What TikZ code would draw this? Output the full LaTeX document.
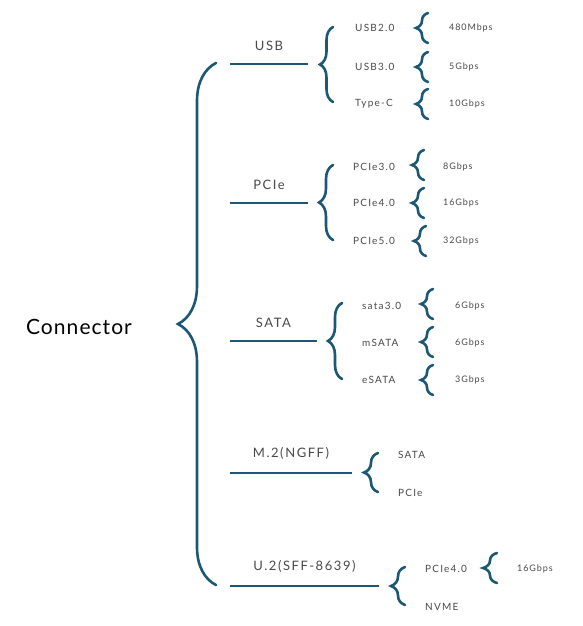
\documentclass[tikz,border=0pt]{standalone}
\usepackage{fontspec}
\setmainfont{Lato}
\usetikzlibrary{decorations.pathreplacing,positioning}
\definecolor{linkblue}{RGB}{28,88,116}
\definecolor{textgray}{RGB}{72,72,72}
\tikzset{
    x=1pt,y=-1pt,
    root/.style={font=\fontsize{21}{24}\selectfont\addfontfeatures{LetterSpace=5}, text=black},
    branch/.style={anchor=south, text width=#1, align=center, inner xsep=0pt, inner ysep=13pt,
        font=\fontsize{13}{15}\selectfont\addfontfeatures{LetterSpace=12}, text=textgray},
    leaf/.style={anchor=west, inner sep=0pt, font=\fontsize{10}{12}\selectfont\addfontfeatures{LetterSpace=12}, text=textgray},
    speed/.style={anchor=west, inner sep=0pt, font=\fontsize{9}{11}\selectfont\addfontfeatures{LetterSpace=10}, text=textgray},
    curly/.style={decorate, decoration={brace, amplitude=#1}, draw=linkblue, line width=2.6pt, line cap=round},
    bar/.style={draw=linkblue, line width=2.6pt}
}

\begin{document}
\begin{tikzpicture}
    \useasboundingbox (0,0) rectangle (583,626);

    \node[root] (conn) at (79,327) {Connector};
    \coordinate (conn-top) at (216,63);
    \coordinate (conn-bot) at (216,585);
    \draw[curly=38pt] (conn-bot) -- (conn-top);

    % second level
    \node[branch=78pt] (usb) at (269,64) {USB};
    \node[branch=78pt] (pcie) at (269,203) {PCIe};
    \node[branch=87pt] (sata) at (273.5,341) {SATA};
    \node[branch=122pt] (m2) at (291,473) {M.2(NGFF)};
    \node[branch=149pt] (u2) at (304.5,586) {U.2(SFF-8639)};
    \draw[bar] (usb.south west) -- (usb.south east);
    \draw[bar] (pcie.south west) -- (pcie.south east);
    \draw[bar] (sata.south west) -- (sata.south east);
    \draw[bar] (m2.south west) -- (m2.south east);
    \draw[bar] (u2.south west) -- (u2.south east);

    % USB
    \draw[curly=13pt] (333,102) -- (333,27);
    \node[leaf] (usb20) at (355,28) {USB2.0};
    \node[leaf] (usb30) at (355,67) {USB3.0};
    \node[leaf] (typec) at (355,104) {Type-C};
    \draw[curly=12pt] (428,43) -- (428,13);
    \draw[curly=12pt] (428,82) -- (428,52);
    \draw[curly=12pt] (428,119) -- (428,89);
    \node[speed] (usb20-v) at (449,28) {480Mbps};
    \node[speed] (usb30-v) at (449,67) {5Gbps};
    \node[speed] (typec-v) at (449,104) {10Gbps};

    % PCIe
    \draw[curly=14pt] (333,240) -- (333,165);
    \node[leaf] (pcie3) at (353,167) {PCIe3.0};
    \node[leaf] (pcie4) at (353,203) {PCIe4.0};
    \node[leaf] (pcie5) at (353,241) {PCIe5.0};
    \draw[curly=12pt] (424,180) -- (424,150);
    \draw[curly=12pt] (424,218) -- (424,188);
    \draw[curly=12pt] (426,256) -- (426,226);
    \node[speed] (pcie3-v) at (443,167) {8Gbps};
    \node[speed] (pcie4-v) at (443,203) {16Gbps};
    \node[speed] (pcie5-v) at (443,241) {32Gbps};

    % SATA
    \draw[curly=14pt] (342,379) -- (342,303);
    \node[leaf] (sata3) at (362,306) {sata3.0};
    \node[leaf] (msata) at (362,343) {mSATA};
    \node[leaf] (esata) at (362,380) {eSATA};
    \draw[curly=12pt] (433,319) -- (433,289);
    \draw[curly=12pt] (433,357) -- (433,327);
    \draw[curly=12pt] (433,395) -- (433,365);
    \node[speed] (sata3-v) at (455,306) {6Gbps};
    \node[speed] (msata-v) at (455,343) {6Gbps};
    \node[speed] (esata-v) at (455,380) {3Gbps};

    % M.2
    \draw[curly=14pt] (378,492) -- (378,453);
    \node[leaf] (m2sata) at (398,455) {SATA};
    \node[leaf] (m2pcie) at (398,493) {PCIe};

    % U.2
    \draw[curly=14pt] (405,605) -- (405,567);
    \node[leaf] (u2pcie) at (425,569) {PCIe4.0};
    \node[leaf] (nvme) at (425,607) {NVME};
    \draw[curly=14pt] (497,583) -- (497,553);
    \node[speed] (u2pcie-v) at (517,569) {16Gbps};
\end{tikzpicture}
\end{document}
